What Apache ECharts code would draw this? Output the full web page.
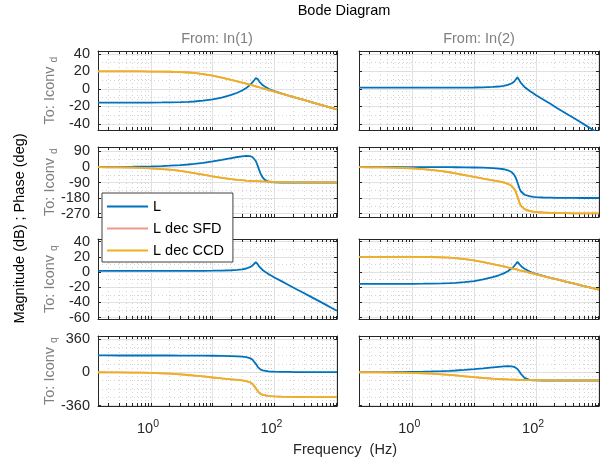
<!DOCTYPE html>
<html><head><meta charset="utf-8">
<script src="https://cdn.jsdelivr.net/npm/echarts@6/dist/echarts.min.js"></script>
<style>html,body{margin:0;padding:0;background:#fff}#c{width:606px;height:462px}</style>
</head><body><div id="c"></div>
<script>
// ---------- data ----------
const freq = [0.138, 0.2, 0.3, 0.5, 0.7, 1, 1.5, 2, 3, 4, 5, 7, 10, 14, 20, 25, 30, 35, 40, 44,
  47, 50, 51, 54, 57, 60, 65, 70, 80, 90, 100, 130, 170, 220, 300, 400, 550, 700, 850, 1037];

// Magnitude (dB), To: Iconv_d
const magD1_L   = [-15.6,-15.6,-15.6,-15.6,-15.6,-15.5,-15.4,-15.3,-15.0,-14.7,-14.3,-13.4,-11.9,-9.8,-6.8,-4.3,-1.8,1.0,4.5,7.5,
  10.0,12.5,13.4,11.0,8.5,6.5,4.2,2.6,0.3,-1.3,-2.5,-5.1,-7.6,-9.8,-12.5,-15.0,-17.8,-19.9,-21.6,-23.3];
const magD1_CCD = [20.0,20.0,20.0,20.0,20.0,19.9,19.8,19.7,19.3,18.8,18.3,17.0,15.2,13.1,10.5,8.7,7.3,6.0,4.9,4.1,
  3.5,3.0,2.8,2.3,1.8,1.4,0.7,0.1,-1.1,-2.1,-3.0,-5.3,-7.6,-9.8,-12.5,-15.0,-17.8,-19.9,-21.6,-23.3];
const magD2_L   = [1.5,1.5,1.5,1.5,1.5,1.5,1.5,1.5,1.5,1.5,1.5,1.6,1.7,1.9,2.3,2.8,3.5,4.6,6.3,8.3,
  10.5,13.4,12.8,9.5,6.8,4.8,2.3,0.5,-2.5,-5.0,-7.2,-12.0,-17.0,-22.0,-27.7,-33.0,-39.0,-43.6,-47.3,-51.0];
// Phase (deg), To: Iconv_d
const phD1_L    = [0.5,0.7,1.0,1.8,2.5,3.5,5.5,7.5,11,14.5,18,24,32,41,52,58,62,64,63,58,
  50,35,28,5,-20,-40,-62,-75,-85,-88,-89,-90,-90,-90,-90,-90,-90,-90,-90,-90];
const phD1_CCD  = [-1.1,-1.6,-2.4,-4.0,-5.6,-8.0,-11.9,-15.7,-22.9,-29.4,-35.2,-44.6,-54.6,-63.1,-70.5,-74.1,-76.7,-78.5,-79.9,-80.8,
  -81.4,-81.9,-82.1,-82.5,-82.9,-83.3,-83.8,-84.2,-84.9,-85.5,-85.9,-86.9,-87.6,-88.2,-88.6,-89.0,-89.3,-89.4,-89.5,-89.6];
const phD2_L    = [0,0,-0.1,-0.1,-0.2,-0.3,-0.4,-0.5,-0.8,-1.1,-1.4,-2.0,-2.9,-4.2,-6.5,-9,-13,-19,-29,-44,
  -62,-90,-100,-125,-142,-152,-161,-166,-171,-173.5,-175,-177,-178,-179,-179.3,-179.5,-179.7,-179.8,-179.8,-179.9];
const phD2_CCD  = [-1.1,-1.6,-2.5,-4.1,-5.8,-8.3,-12.3,-16.2,-23.7,-30.5,-36.6,-46.6,-57.5,-67.3,-77.0,-83.1,-89.7,-97.5,-108.9,-124.8,
  -143.4,-171.9,-182.1,-207.5,-224.9,-235.3,-244.8,-250.2,-255.9,-259.0,-260.9,-263.9,-265.6,-267.2,-267.9,-268.5,-269.0,-269.2,-269.3,-269.5];
// Magnitude (dB), To: Iconv_q
const magQ1_L   = [1.5,1.5,1.5,1.5,1.5,1.5,1.5,1.5,1.5,1.5,1.5,1.6,1.7,1.9,2.3,2.8,3.5,4.6,6.3,8.3,
  10.5,13.0,13.4,10.0,7.0,4.8,2.3,0.5,-2.5,-5.0,-7.2,-12.0,-17.0,-22.0,-27.7,-33.0,-39.0,-43.6,-47.3,-51.0];
const magQ2_L   = [-15.6,-15.6,-15.6,-15.6,-15.6,-15.5,-15.4,-15.3,-15.0,-14.7,-14.3,-13.4,-11.9,-9.8,-6.8,-4.3,-1.8,1.0,4.5,7.5,
  10.5,13.4,12.8,10.0,8.0,6.2,4.2,2.6,0.3,-1.3,-2.5,-5.1,-7.6,-9.8,-12.5,-15.0,-17.8,-19.9,-21.6,-23.3];
const magQ2_CCD = [20.0,20.0,20.0,20.0,20.0,19.9,19.8,19.7,19.3,18.8,18.3,17.0,15.2,13.1,10.5,8.7,7.3,6.0,4.9,4.1,
  3.5,3.0,2.8,2.3,1.8,1.4,0.7,0.1,-1.1,-2.1,-3.0,-5.3,-7.6,-9.8,-12.5,-15.0,-17.8,-19.9,-21.6,-23.3];
// Phase (deg), To: Iconv_q
const phQ1_L    = [180,180,179.9,179.9,179.8,179.7,179.6,179.5,179.2,178.9,178.6,178,177.1,175.8,173.5,171,167,161,151,136,
  118,90,80,55,38,28,19,14,9,6.5,5,3,2,1,0.7,0.5,0.3,0.2,0.2,0.1];
const phQ1_CCD  = [-1.1,-1.6,-2.5,-4.1,-5.8,-8.3,-12.3,-16.2,-23.7,-30.5,-36.6,-46.6,-57.5,-67.3,-77.0,-83.1,-89.7,-97.5,-108.9,-124.8,
  -143.4,-171.9,-182.1,-207.5,-224.9,-235.3,-244.8,-250.2,-255.9,-259.0,-260.9,-263.9,-265.6,-267.2,-267.9,-268.5,-269.0,-269.2,-269.3,-269.5];
const phQ2_L    = [0.5,0.7,1.0,1.8,2.5,3.5,5.5,7.5,11,14.5,18,24,32,41,52,58,62,64,63,58,
  50,35,28,5,-20,-40,-62,-75,-85,-88,-89,-90,-90,-90,-90,-90,-90,-90,-90,-90];
const phQ2_CCD  = [-1.1,-1.6,-2.4,-4.0,-5.6,-8.0,-11.9,-15.7,-22.9,-29.4,-35.2,-44.6,-54.6,-63.1,-70.5,-74.1,-76.7,-78.5,-79.9,-80.8,
  -81.4,-81.9,-82.1,-82.5,-82.9,-83.3,-83.8,-84.2,-84.9,-85.5,-85.9,-86.9,-87.6,-88.2,-88.6,-89.0,-89.3,-89.4,-89.5,-89.6];

const seriesNames = ['L', 'L dec SFD', 'L dec CCD'];
const inputLabels = ['From: In(1)', 'From: In(2)'];
const outputSubs = ['d', 'd', 'q', 'q'];
const xLabelVals = [1, 100];
const xDecades = [1, 10, 100, 1000];
const xMinorVals = [0.2,0.3,0.4,0.5,0.6,0.7,0.8,0.9,1,2,3,4,5,6,7,8,9,10,20,30,40,50,60,70,80,90,100,200,300,400,500,600,700,800,900,1000];
const yRows = [
  {min: -46.9, max: 43.4, major: [-40,-20,0,20,40], minor: [-30,-10,10,30]},
  {min: -290, max: 116, major: [-270,-180,-90,0,90], minor: [-225,-135,-45,45]},
  {min: -61.8, max: 43.4, major: [-60,-40,-20,0,20,40], minor: [-50,-30,-10,10,30]},
  {min: -365, max: 390, major: [-360,0,360], minor: [-270,-180,-90,90,180,270]}
];

// ---------- panels ----------
const panels = [
  {row:0, col:0, lines:[[0, magD1_L], [1, magD1_CCD], [2, magD1_CCD]]},
  {row:0, col:1, lines:[[0, magD2_L]]},
  {row:1, col:0, lines:[[0, phD1_L], [1, phD1_CCD], [2, phD1_CCD]]},
  {row:1, col:1, lines:[[0, phD2_L], [1, phD2_CCD], [2, phD2_CCD]]},
  {row:2, col:0, lines:[[0, magQ1_L]]},
  {row:2, col:1, lines:[[0, magQ2_L], [1, magQ2_CCD], [2, magQ2_CCD]]},
  {row:3, col:0, lines:[[0, phQ1_L], [1, phQ1_CCD], [2, phQ1_CCD]]},
  {row:3, col:1, lines:[[0, phQ2_L], [1, phQ2_CCD], [2, phQ2_CCD]]}
];

const FONT = '"Liberation Sans", Arial, Helvetica, sans-serif';
const AX = '#262626';
const COLORS = ['#0072BD', '#EE9A8A', '#EDB120'];
const X_MIN = 0.138, X_MAX = 1037;
const colL = [98, 359], colW = [239, 240];
const rowT = [51, 147, 239, 336], rowH = [79, 70, 80, 70];

const grids = [], xAxes = [], yAxes = [], series = [];
panels.forEach((p, g) => {
  grids.push({left: colL[p.col], top: rowT[p.row], width: colW[p.col], height: rowH[p.row]});
  const yr = yRows[p.row];
  const base = {gridIndex: g, type: 'log', logBase: 10, min: X_MIN, max: X_MAX};
  const axLine = {show: true, onZero: false, lineStyle: {color: AX, width: 1}};
  xAxes.push(Object.assign({}, base, {
    position: 'bottom', axisLine: axLine,
    axisTick: {show: true, inside: true, length: 3, customValues: xMinorVals, lineStyle: {color: AX}},
    axisLabel: {show: p.row === 3, customValues: xLabelVals, margin: 13, padding: [0, 6, 0, 0],
      formatter: v => '{b|10}{s|' + Math.round(Math.log10(v)) + '}',
      rich: {b: {fontSize: 14.5, fontFamily: FONT, color: AX}, s: {fontSize: 10.5, fontFamily: FONT, color: AX, verticalAlign: 'top', padding: [0,0,9,0]}}},
    splitLine: {show: true, lineStyle: {color: '#d4d4d4', type: [1, 3], width: 1}}
  }));
  xAxes.push(Object.assign({}, base, {
    position: 'top', axisLine: axLine,
    axisTick: {show: true, inside: true, length: 3, customValues: xMinorVals, lineStyle: {color: AX}},
    axisLabel: {show: false}, splitLine: {show: false}
  }));
  xAxes.push(Object.assign({}, base, {
    position: 'bottom', axisLine: {show: false},
    axisTick: {show: false, customValues: xDecades},
    axisLabel: {show: false}, splitLine: {show: true, lineStyle: {color: '#e1e1e1', width: 1}}
  }));
  const ybase = {gridIndex: g, type: 'value', min: yr.min, max: yr.max};
  yAxes.push(Object.assign({}, ybase, {
    position: 'left', axisLine: axLine,
    axisTick: {show: true, inside: true, length: 3, customValues: yr.major, lineStyle: {color: AX}},
    axisLabel: {show: p.col === 0, customValues: yr.major, margin: 8, color: AX, fontSize: 14.5, fontFamily: FONT},
    splitLine: {show: true, lineStyle: {color: '#e1e1e1', width: 1}}
  }));
  yAxes.push(Object.assign({}, ybase, {
    position: 'right', axisLine: axLine,
    axisTick: {show: true, inside: true, length: 3, customValues: yr.major, lineStyle: {color: AX}},
    axisLabel: {show: false}, splitLine: {show: false}
  }));
  yAxes.push(Object.assign({}, ybase, {
    position: 'left', axisLine: {show: false},
    axisTick: {show: false, customValues: yr.minor},
    axisLabel: {show: false}, splitLine: {show: true, lineStyle: {color: '#d4d4d4', type: [1, 3], width: 1}}
  }));
  p.lines.forEach(([k, arr]) => {
    series.push({
      name: seriesNames[k], type: 'line', xAxisIndex: 3 * g, yAxisIndex: 3 * g,
      data: freq.map((f, i) => [f, arr[i]]),
      symbol: 'none', showSymbol: false, clip: true, silent: true,
      lineStyle: {color: COLORS[k], width: 1.8}, itemStyle: {color: COLORS[k]},
      z: 2 + k
    });
  });
});

const graphics = [
  {type: 'text', x: 344, y: 11, style: {text: 'Bode Diagram', fill: '#000', font: '14.5px ' + FONT, align: 'center', verticalAlign: 'middle'}},
  {type: 'text', x: 217, y: 38.5, style: {text: inputLabels[0], fill: '#808080', font: '14.5px ' + FONT, align: 'center', verticalAlign: 'middle'}},
  {type: 'text', x: 479, y: 38.5, style: {text: inputLabels[1], fill: '#808080', font: '14.5px ' + FONT, align: 'center', verticalAlign: 'middle'}},
  {type: 'text', x: 20, y: 228.5, rotation: Math.PI / 2, style: {text: 'Magnitude (dB) ; Phase (deg)', fill: '#000', font: '14.5px ' + FONT, align: 'center', verticalAlign: 'middle'}},
  {type: 'text', x: 345, y: 449.5, style: {text: 'Frequency  (Hz)', fill: AX, font: '14.5px ' + FONT, align: 'center', verticalAlign: 'middle'}}
];
outputSubs.forEach((s, r) => {
  graphics.push({type: 'text', x: 50, y: rowT[r] + rowH[r] / 2, rotation: Math.PI / 2,
    style: {text: '{m|To: Iconv }{s|' + s + '}', align: 'center', verticalAlign: 'middle',
      rich: {m: {fontSize: 14.5, fontFamily: FONT, fill: '#808080', color: '#808080', lineHeight: 20, verticalAlign: 'middle'},
             s: {fontSize: 10.5, fontFamily: FONT, fill: '#808080', color: '#808080', lineHeight: 20, verticalAlign: 'bottom'}}}});
});

const chart = echarts.init(document.getElementById('c'), null, {renderer: 'canvas', width: 606, height: 462});
chart.setOption({
  animation: false,
  backgroundColor: '#fff',
  grid: grids, xAxis: xAxes, yAxis: yAxes, series: series,
  legend: {
    data: seriesNames, orient: 'vertical', left: 102, top: 193,
    icon: 'rect', itemWidth: 41, itemHeight: 2, itemGap: 7,
    padding: [6, 9, 4, 5], borderColor: '#404040', borderWidth: 1, backgroundColor: '#fff',
    textStyle: {fontSize: 14.5, lineHeight: 15, color: '#000', fontFamily: FONT},
    selectedMode: false
  },
  graphic: graphics
});
</script></body></html>
